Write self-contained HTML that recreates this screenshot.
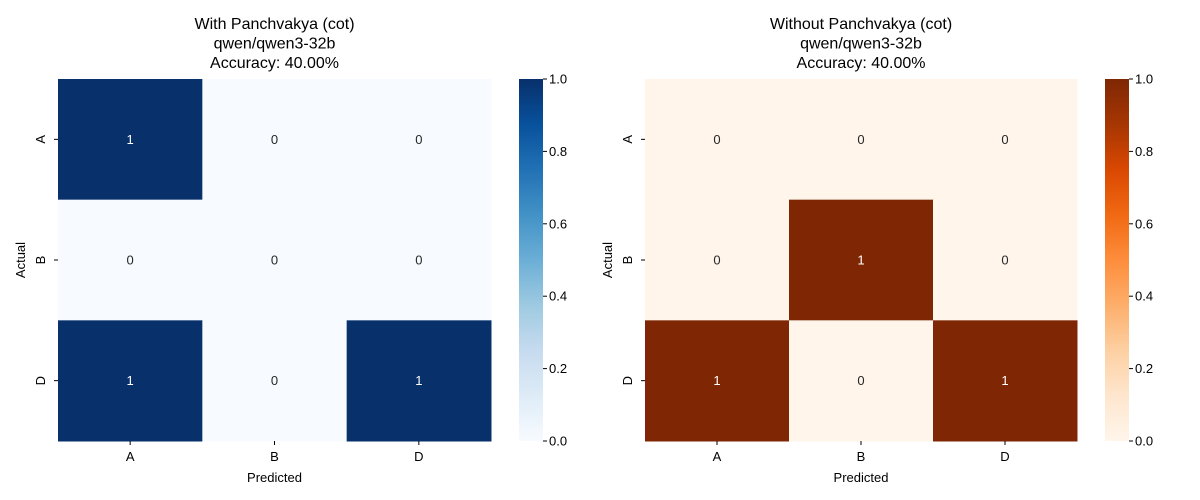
<!DOCTYPE html>
<html><head><meta charset="utf-8">
<style>body{margin:0;background:#fff}svg{display:block;font-family:"Liberation Sans","DejaVu Sans",sans-serif}</style>
</head><body>
<svg id="chart" width="1200" height="500">
<defs>
<linearGradient id="gBlues" x1="0" y1="1" x2="0" y2="0">
<stop offset="0" stop-color="#f7fbff"/><stop offset="0.125" stop-color="#deebf7"/><stop offset="0.25" stop-color="#c6dbef"/><stop offset="0.375" stop-color="#9ecae1"/><stop offset="0.5" stop-color="#6baed6"/><stop offset="0.625" stop-color="#4292c6"/><stop offset="0.75" stop-color="#2171b5"/><stop offset="0.875" stop-color="#08519c"/><stop offset="1" stop-color="#08306b"/>
</linearGradient>
<linearGradient id="gOranges" x1="0" y1="1" x2="0" y2="0">
<stop offset="0" stop-color="#fff5eb"/><stop offset="0.125" stop-color="#fee6ce"/><stop offset="0.25" stop-color="#fdd0a2"/><stop offset="0.375" stop-color="#fdae6b"/><stop offset="0.5" stop-color="#fd8d3c"/><stop offset="0.625" stop-color="#f16913"/><stop offset="0.75" stop-color="#d94801"/><stop offset="0.875" stop-color="#a63603"/><stop offset="1" stop-color="#7f2704"/>
</linearGradient>
</defs>
</svg>
<script>
const labels = ["A", "B", "D"];
const withValues = [[1,0,0],[0,0,0],[1,0,1]];
const withoutValues = [[0,0,0],[0,1,0],[1,0,1]];
const cbTicks = [0, 0.2, 0.4, 0.6, 0.8, 1.0];
const titlesWith = ["With Panchvakya (cot)", "qwen/qwen3-32b", "Accuracy: 40.00%"];
const titlesWithout = ["Without Panchvakya (cot)", "qwen/qwen3-32b", "Accuracy: 40.00%"];

const NS = "http://www.w3.org/2000/svg";
const svg = document.getElementById("chart");
function el(tag, attrs, parent, text) {
  const e = document.createElementNS(NS, tag);
  for (const k in attrs) e.setAttribute(k, attrs[k]);
  if (text !== undefined) e.textContent = text;
  (parent || svg).appendChild(e);
  return e;
}
function hex(h){return [1,3,5].map(i=>parseInt(h.substr(i,2),16));}
function interp(stops, t){
  const n = stops.length-1, p = Math.max(0,Math.min(1,t))*n, i = Math.min(n-1,Math.floor(p)), f = p-i;
  const a = hex(stops[i]), b = hex(stops[i+1]);
  return "rgb("+a.map((v,k)=>Math.round(v+(b[k]-v)*f)).join(",")+")";
}
const blues = ["#f7fbff","#deebf7","#c6dbef","#9ecae1","#6baed6","#4292c6","#2171b5","#08519c","#08306b"];
const oranges = ["#fff5eb","#fee6ce","#fdd0a2","#fdae6b","#fd8d3c","#f16913","#d94801","#a63603","#7f2704"];

function panel(name, x0, x1, titles, values, stops, gradId, cbX) {
  const y0 = 79, y1 = 441;
  const g = el("g", {}, svg);
  
  
  const n = labels.length;
  const cw = (x1-x0)/n, ch = (y1-y0)/n;
  const xScale = i => x0 + i*cw, yScale = i => y0 + i*ch;
  const vmax = Math.max(...values.flat()), vmin = Math.min(...values.flat());
  const cx = (x0+x1)/2;
  titles.forEach((t,i)=>{
    const tt = el("text",{x:cx,y:29+i*19.5,"text-anchor":"middle","font-size":"16",fill:"#000"},g,t);
    
    
  });
  values.forEach((row,r)=>row.forEach((v,c)=>{
    const t = (v-vmin)/((vmax-vmin)||1);
    const rc = el("rect",{x:xScale(c),y:yScale(r),width:cw+0.5,height:ch+0.5,fill:interp(stops,t)},g);
    
    
    const tx = el("text",{x:xScale(c)+cw/2,y:yScale(r)+ch/2+4.5,"text-anchor":"middle","font-size":"13",fill:t>0.5?"#fff":"#262626"},g,String(v));
    
    
  }));
  labels.forEach((l,i)=>{
    const px = xScale(i)+cw/2;
    el("line",{x1:px,x2:px,y1:y1,y2:y1+4,stroke:"#000"},g);
    const xl = el("text",{x:px,y:y1+20,"text-anchor":"middle","font-size":"13"},g,l);
    
    
    const py = yScale(i)+ch/2;
    el("line",{x1:x0-4,x2:x0,y1:py,y2:py,stroke:"#000"},g);
    const yl = el("text",{x:x0-13,y:py,"text-anchor":"middle","font-size":"13",transform:`rotate(-90 ${x0-13} ${py})`,dy:"0"},g,l);
    
    
  });
  const xt = el("text",{x:cx,y:482,"text-anchor":"middle","font-size":"13"},g,"Predicted");
  
  
  const ay = (y0+y1)/2, ax = x0-33;
  const yt = el("text",{x:ax,y:ay,"text-anchor":"middle","font-size":"13",transform:`rotate(-90 ${ax} ${ay})`},g,"Actual");
  
  
  // colorbar
  const cb = el("rect",{x:cbX,y:y0,width:24,height:y1-y0,fill:`url(#${gradId})`},g);
  
  
  const cbY = v => y1 - (v-0)/(1-0)*(y1-y0);
  cbTicks.forEach(v=>{
    el("line",{x1:cbX+24,x2:cbX+28,y1:cbY(v),y2:cbY(v),stroke:"#000"},g);
    const ct = el("text",{x:cbX+30,y:cbY(v)+4.5,"font-size":"13"},g,v.toFixed(1));
    
    
  });
}
panel("heatmap-with-panchvakya", 58, 491, titlesWith, withValues, blues, "gBlues", 519);
panel("heatmap-without-panchvakya", 645, 1077, titlesWithout, withoutValues, oranges, "gOranges", 1105);
</script>
</body></html>
